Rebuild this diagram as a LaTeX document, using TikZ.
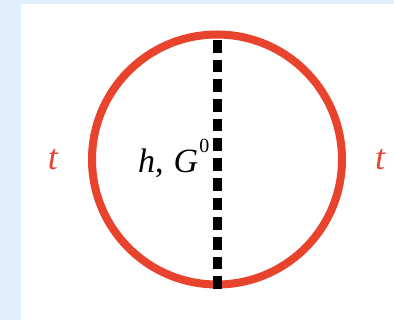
\documentclass[tikz,border=0pt]{standalone}
\usepackage{fontspec}
\setmainfont{Liberation Serif}
\definecolor{bgblue}{HTML}{DFF0FC}
\definecolor{ringred}{HTML}{E8432D}
\definecolor{tred}{HTML}{E4473A}
\tikzset{
  ring/.style={circle, draw=ringred, line width=8pt, minimum size=250pt, inner sep=0pt},
  higgs/.style={line width=9pt, dash pattern=on 12.7pt off 7pt},
  lbl/.style={inner sep=0pt, anchor=base, font=\fontsize{36}{40}\selectfont\itshape},
}
\begin{document}
\begin{tikzpicture}[x=1pt,y=-1pt]
\useasboundingbox (0,0) rectangle (394,320);
\fill[bgblue] (0,0) rectangle (394,320);
\fill[white] (21,4) rectangle (394,320);
\node[ring] (loop) at (217,159.5) {};
\node[lbl, text=tred] (tl) at (53,170) {t};
\node[lbl, text=tred] (tr) at (380,170) {t};
\node[inner sep=0pt, anchor=base west, font=\fontsize{34}{38}\selectfont] (hg) at (138,173)
  {\textit{h},\hspace{10pt}\textit{G}\kern1pt\raisebox{20pt}{\fontsize{20}{22}\selectfont 0}};
\coordinate (top) at (217,40);
\coordinate (bot) at (217,289);
\draw[higgs] (top) -- (bot);
\end{tikzpicture}
\end{document}
